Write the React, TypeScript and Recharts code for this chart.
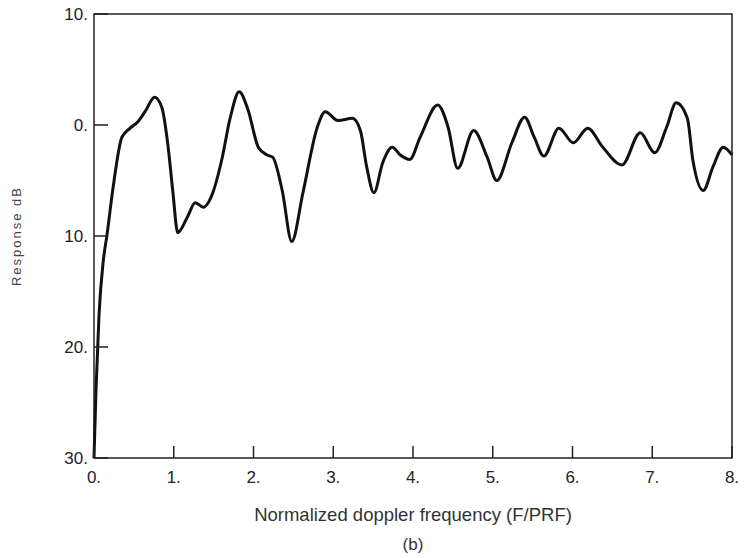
import React from "react";
import { LineChart, Line, XAxis, YAxis, ReferenceArea } from "recharts";

// normalized doppler frequency vs response (dB)
const freq = [
  0, 0.025, 0.063, 0.117, 0.163, 0.24, 0.35, 0.45, 0.55, 0.64, 0.76, 0.85, 0.93, 0.99,
  1.05, 1.17, 1.27, 1.37, 1.49, 1.6, 1.71, 1.82, 1.93, 2.06, 2.17, 2.24, 2.36, 2.48,
  2.62, 2.8, 2.9, 3.06, 3.24, 3.34, 3.42, 3.51, 3.62, 3.74, 3.84, 3.96, 4.09, 4.31,
  4.44, 4.56, 4.76, 4.93, 5.05, 5.24, 5.4, 5.52, 5.64, 5.83, 6.01, 6.19, 6.38, 6.62,
  6.85, 7.03, 7.18, 7.3, 7.44, 7.51, 7.64, 7.76, 7.89, 8.0,
];
const response = [
  -30, -23.9, -17.1, -12.2, -9.9, -5.6, -1.1, -0.3, 0.3, 1.2, 2.5, 1.6, -2.0, -6.1,
  -9.7, -8.3, -7.0, -7.4, -6.1, -3.2, 0.7, 3.0, 1.4, -2.0, -2.7, -2.9, -5.9, -10.5,
  -6.1, -0.2, 1.2, 0.4, 0.6, -0.5, -3.8, -6.1, -3.4, -2.0, -2.7, -3.1, -1.1, 1.8,
  -0.2, -3.9, -0.5, -2.9, -5.0, -1.6, 0.7, -1.1, -2.8, -0.3, -1.6, -0.3, -2.0, -3.6,
  -0.7, -2.5, -0.2, 2.0, 0.6, -3.2, -5.9, -3.8, -2.0, -2.7,
];
const xTicks = [0, 1, 2, 3, 4, 5, 6, 7, 8];
const yTicks = [-30, -20, -10, 0, 10];

const data = freq.map((f, i) => ({ f, r: response[i] }));

const FONT = "'Liberation Sans', Arial, sans-serif";
const INK = "#222";

function XTick({ x, y, payload }: any) {
  return (
    <g>
      <line x1={x} y1={y} x2={x} y2={y - 12} stroke={INK} strokeWidth={1.5} />
      <text x={x} y={y + 25} textAnchor="middle" fontSize={17} fontFamily={FONT} fill={INK}>
        {payload.value}.
      </text>
    </g>
  );
}

function YTick({ x, y, payload }: any) {
  return (
    <g>
      <line x1={x} y1={y} x2={x + 14} y2={y} stroke={INK} strokeWidth={1.5} />
      <text x={x - 6} y={y + 6} textAnchor="end" fontSize={17} fontFamily={FONT} fill={INK}>
        {Math.abs(payload.value)}.
      </text>
    </g>
  );
}

function XTitle({ viewBox }: any) {
  const cx = viewBox.x + viewBox.width / 2;
  return (
    <g fontFamily={FONT} fill="#333">
      <text x={cx} y={viewBox.y + 63} textAnchor="middle" fontSize={18.5}>
        Normalized doppler frequency (F/PRF)
      </text>
      <text x={cx} y={viewBox.y + 92} textAnchor="middle" fontSize={17}>
        (b)
      </text>
    </g>
  );
}

function YTitle({ viewBox }: any) {
  const cy = viewBox.y + viewBox.height / 2;
  return (
    <text
      x={16}
      y={cy}
      transform={`rotate(-90 16 ${cy})`}
      textAnchor="middle"
      dominantBaseline="central"
      fontSize={13}
      letterSpacing={2}
      fontFamily={FONT}
      fill="#444"
    >
      Response dB
    </text>
  );
}

export default function App() {
  return (
    <div style={{ position: "absolute", left: 0, top: 0, background: "#fff" }}>
      <LineChart
        width={744}
        height={558}
        data={data}
        margin={{ top: 14, right: 12, bottom: 0, left: 0 }}
      >
        <XAxis
          dataKey="f"
          type="number"
          domain={[0, 8]}
          ticks={xTicks}
          tickSize={0}
          tickMargin={0}
          tickLine={false}
          axisLine={false}
          height={100}
          tick={<XTick />}
          label={<XTitle />}
        />
        <YAxis
          type="number"
          domain={[-30, 10]}
          ticks={yTicks}
          tickSize={0}
          tickMargin={0}
          tickLine={false}
          axisLine={false}
          width={94}
          tick={<YTick />}
          label={<YTitle />}
        />
        <ReferenceArea
          x1={0}
          x2={8}
          y1={-30}
          y2={10}
          fill="none"
          stroke={INK}
          strokeWidth={1.5}
        />
        <Line
          type="monotone"
          dataKey="r"
          stroke="#111"
          strokeWidth={3}
          dot={false}
          isAnimationActive={false}
        />
      </LineChart>
    </div>
  );
}
